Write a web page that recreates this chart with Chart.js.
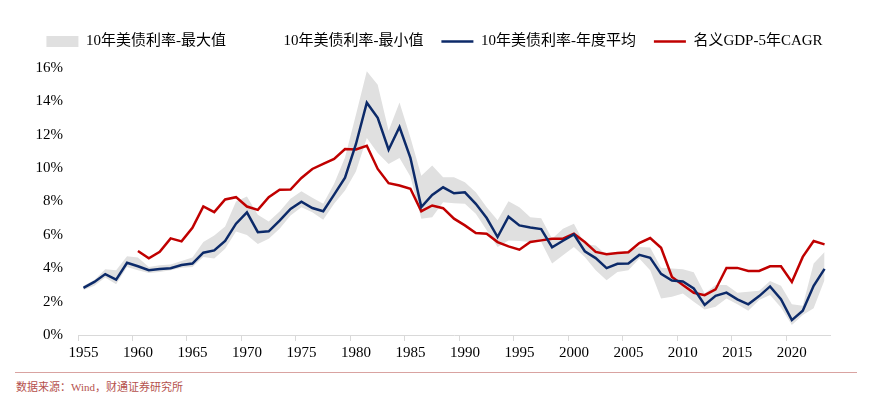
<!DOCTYPE html>
<html>
<head>
<meta charset="utf-8">
<script src="https://cdn.jsdelivr.net/npm/chart.js@4/dist/chart.umd.min.js"></script>
<style>
  html, body { margin: 0; padding: 0; background: #fff; }
  #wrap { position: relative; width: 869px; height: 362px; }
  #foot_line { position: absolute; left: 15px; top: 372px; width: 842px; height: 0; border-top: 1px solid #d9a3a1; }
  #foot_txt { position: absolute; left: 16px; top: 378px; font-family: "Liberation Serif", "Noto Sans CJK SC", serif; font-size: 11px; color: #b5514d; }
</style>
</head>
<body>
<div id="wrap"><canvas id="ChartYield"></canvas></div>
<div id="foot_line"></div>
<div id="foot_txt">数据来源：Wind，财通证券研究所</div>
<script>

// years 1955 - 2023
var years = [];
for (let y = 1955; y <= 2023; y++) years.push(String(y));

// 10y treasury yearly max (%)
const yieldMax = [
  2.95, 3.30, 3.94, 3.88, 4.72, 4.64, 4.08, 4.18, 4.22, 4.44,
  4.64, 5.57, 5.97, 6.50, 8.00, 8.30, 7.20, 6.80, 7.40, 8.16,
  8.62, 8.22, 7.86, 9.06, 10.64, 13.20, 15.80, 15.00, 12.24, 13.93,
  11.84, 9.55, 10.15, 9.45, 9.45, 9.15, 8.56, 7.66, 6.87, 8.02,
  7.66, 7.06, 7.00, 5.77, 6.37, 6.67, 5.45, 5.37, 4.80, 4.88,
  5.07, 5.27, 5.25, 4.03, 3.98, 3.94, 3.76, 2.49, 3.00, 3.00,
  2.53, 2.59, 2.65, 3.24, 2.95, 1.85, 1.75, 4.28, 4.98
];

// 10y treasury yearly min (%)
const yieldMin = [
  2.70, 2.95, 3.44, 3.04, 4.08, 3.88, 3.72, 3.78, 3.88, 4.03,
  4.08, 4.68, 4.58, 5.17, 6.20, 6.00, 5.45, 5.77, 6.37, 7.16,
  7.66, 7.36, 6.91, 7.86, 8.66, 9.80, 11.80, 10.90, 10.25, 10.60,
  9.50, 6.97, 7.06, 7.96, 7.90, 7.86, 7.26, 6.27, 5.27, 5.67,
  5.63, 5.57, 5.57, 4.28, 4.78, 5.27, 4.68, 3.88, 3.28, 3.78,
  3.88, 4.58, 3.88, 2.19, 2.29, 2.49, 1.99, 1.53, 1.70, 2.19,
  1.85, 1.45, 2.09, 2.39, 1.65, 0.60, 1.20, 1.60, 3.30
];

// 10y treasury yearly average (%)
const yieldAvg = [
  2.82, 3.18, 3.65, 3.32, 4.33, 4.12, 3.88, 3.95, 4.00, 4.19,
  4.28, 4.93, 5.07, 5.64, 6.67, 7.35, 6.16, 6.21, 6.85, 7.56,
  7.99, 7.61, 7.42, 8.41, 9.43, 11.43, 13.92, 13.01, 11.10, 12.46,
  10.62, 7.67, 8.39, 8.85, 8.49, 8.55, 7.86, 7.01, 5.87, 7.09,
  6.57, 6.44, 6.35, 5.26, 5.65, 6.03, 5.02, 4.61, 4.01, 4.27,
  4.29, 4.80, 4.63, 3.66, 3.26, 3.21, 2.79, 1.80, 2.35, 2.54,
  2.14, 1.84, 2.33, 2.91, 2.14, 0.89, 1.45, 2.95, 3.96
];

// nominal GDP 5y CAGR (%), starts 1960
const gdpCagr = [
  null, null, null, null, null,
  5.03, 4.60, 4.98, 5.79, 5.61,
  6.43, 7.70, 7.36, 8.12, 8.26, 7.70, 7.50, 8.26, 8.70, 8.72,
  9.41, 9.95, 10.25, 10.55, 11.14, 11.12, 11.34, 9.95, 9.10, 8.96,
  8.76, 7.42, 7.76, 7.60, 6.97, 6.57, 6.11, 6.07, 5.57, 5.31,
  5.11, 5.57, 5.67, 5.77, 5.77, 6.07, 5.57, 4.98, 4.84, 4.92,
  4.96, 5.51, 5.81, 5.23, 3.48, 2.99, 2.53, 2.39, 2.73, 4.02,
  4.02, 3.84, 3.84, 4.12, 4.12, 3.18, 4.68, 5.63, 5.43
];

const fontFam = '"Liberation Serif", "Noto Sans CJK SC", serif';

// push the plot area a bit further below the legend
const legendGap = {
  id: 'legendGap',
  beforeInit(chart) {
    const fit = chart.legend.fit;
    chart.legend.fit = function() {
      fit.bind(chart.legend)();
      this.height += 9;
    };
  }
};

const config_yield = {
  type: 'line',
  data: {
    labels: years,
    datasets: [
      {
        label: '10年美债利率-最大值',
        data: yieldMax,
        backgroundColor: '#e0e0e0',
        borderColor: 'rgba(0,0,0,0)',
        borderWidth: 0,
        pointRadius: 0,
        pointStyle: 'rect',
        fill: '+1'
      },
      {
        label: '10年美债利率-最小值',
        data: yieldMin,
        backgroundColor: '#ffffff',
        borderColor: 'rgba(0,0,0,0)',
        borderWidth: 0,
        pointRadius: 0,
        pointStyle: 'rect',
        fill: false
      },
      {
        label: '10年美债利率-年度平均',
        data: yieldAvg,
        borderColor: '#0c2a69',
        backgroundColor: '#0c2a69',
        borderWidth: 2.5,
        pointRadius: 0,
        pointStyle: 'line',
        fill: false
      },
      {
        label: '名义GDP-5年CAGR',
        data: gdpCagr,
        borderColor: '#c00000',
        backgroundColor: '#c00000',
        borderWidth: 2.5,
        pointRadius: 0,
        pointStyle: 'line',
        fill: false
      }
    ]
  },
  options: {
    responsive: true,
    maintainAspectRatio: false,
    animation: false,
    layout: { padding: { top: 16, right: 0, left: 0, bottom: 0 } },
    plugins: {
      filler: { drawTime: 'beforeDatasetsDraw' },
      tooltip: { enabled: false },
      legend: {
        position: 'top',
        labels: {
          usePointStyle: true,
          pointStyleWidth: 32,
          boxHeight: 11,
          padding: 18,
          color: '#000',
          font: { family: fontFam, size: 15 }
        }
      }
    },
    scales: {
      x: {
        offset: true,
        grid: {
          offset: true,
          drawOnChartArea: false,
          tickLength: 6,
          color: function(c) { return c.index % 5 === 0 ? '#d9d9d9' : 'rgba(0,0,0,0)'; }
        },
        border: { display: true, color: '#d9d9d9' },
        ticks: {
          autoSkip: false,
          maxRotation: 0,
          padding: 3,
          color: '#000',
          font: { family: fontFam, size: 15 },
          callback: function(v, i) { return (1955 + i) % 5 === 0 ? years[i] : ''; }
        },
        afterFit: function(s) { s.height = 27; }
      },
      y: {
        min: 0,
        max: 16,
        grid: { display: false, drawTicks: false },
        border: { display: false },
        ticks: {
          stepSize: 2,
          padding: 15,
          color: '#000',
          font: { family: fontFam, size: 15 },
          callback: function(v) { return v + '%'; }
        },
        afterFit: function(s) { s.width = 78; }
      },
      // empty right axis, only keeps space at the right side
      y2: {
        position: 'right',
        min: 0,
        max: 16,
        grid: { display: false, drawTicks: false },
        border: { display: false },
        ticks: { display: false },
        afterFit: function(s) { s.width = 39; }
      }
    }
  },
  plugins: [legendGap]
};

const ChartYield = new Chart(
  document.getElementById('ChartYield'),
  config_yield
);
</script>
</body>
</html>
